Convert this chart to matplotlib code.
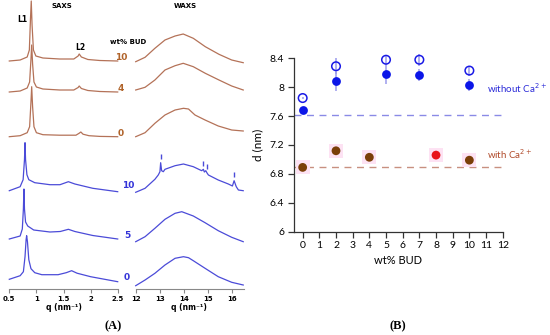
import numpy as np
import matplotlib
matplotlib.use("Agg")
import matplotlib.pyplot as plt

# ---- panel A: SAXS curves (q in nm^-1, intensity a.u. above each curve's baseline)
saxs_q = {
    "b10": [0.5, 0.7, 0.83, 0.87, 0.89, 0.905, 0.92, 0.945, 0.99, 1.12, 1.43, 1.69, 1.77, 1.79, 1.83, 1.95, 2.17, 2.5],
    "b4":  [0.5, 0.7, 0.83, 0.875, 0.9, 0.913, 0.93, 0.955, 1.0, 1.12, 1.43, 1.69, 1.77, 1.79, 1.83, 1.95, 2.17, 2.5],
    "b0":  [0.5, 0.7, 0.83, 0.875, 0.9, 0.913, 0.93, 0.955, 1.0, 1.12, 1.43, 1.73, 1.79, 1.82, 1.86, 1.97, 2.17, 2.5],
    "u10": [0.5, 0.7, 0.755, 0.78, 0.79, 0.8, 0.825, 0.86, 0.97, 1.25, 1.435, 1.59, 1.71, 2.04, 2.5],
    "u5":  [0.5, 0.7, 0.74, 0.76, 0.77, 0.78, 0.8, 0.84, 0.95, 1.25, 1.44, 1.59, 1.71, 2.04, 2.5],
    "u0":  [0.5, 0.7, 0.76, 0.79, 0.81, 0.82, 0.835, 0.86, 0.9, 0.97, 1.1, 1.4, 1.55, 1.65, 1.75, 2.0, 2.5],
}
saxs_i = {
    "b10": [0, 1, 4, 11, 41, 60, 36, 11, 5, 3, 2, 2, 5, 7, 4, 1.5, 0.5, 0],
    "b4":  [0, 1, 4, 10, 33, 47, 28, 10, 5, 3, 2, 2, 4.5, 6, 3.5, 1.5, 0.5, 0],
    "b0":  [0, 1, 4, 10, 35, 50, 30, 10, 4, 2, 1.5, 1.5, 3.5, 4.7, 2.5, 1, 0.3, 0],
    "u10": [1, 5, 12, 32, 49, 32, 17, 12, 9, 7, 7, 10, 7.7, 3.4, 0],
    "u5":  [0, 3, 10, 30, 50, 30, 17, 13, 9, 7, 7.5, 9.7, 7.5, 3.5, 0],
    "u0":  [2.4, 6, 10, 25, 42, 46, 40, 22, 13, 9, 7, 7, 9, 11, 8.5, 5, 0],
}

# ---- panel A: WAXS curves
waxs_q = {
    "b10": [12.0, 12.39, 12.8, 13.22, 13.64, 13.98, 14.4, 14.9, 15.47, 16.0, 16.48],
    "b4":  [12.0, 12.39, 12.8, 13.22, 13.64, 13.98, 14.4, 14.9, 15.47, 16.0, 16.48],
    "b0":  [12.0, 12.39, 12.8, 13.22, 13.64, 13.99, 14.2, 14.47, 14.89, 15.44, 16.0, 16.48],
    "u10": [12.0, 12.39, 12.8, 12.94, 13.01, 13.04, 13.08, 13.15, 13.22, 13.64, 13.99, 14.4, 14.75,
            14.82, 14.86, 14.92, 14.98, 15.03, 15.44, 15.86, 16.03, 16.1, 16.19, 16.28, 16.48],
    "u5":  [12.0, 12.39, 12.8, 13.22, 13.64, 13.92, 14.4, 14.89, 15.44, 16.0, 16.48],
    "u0":  [12.0, 12.39, 12.8, 13.22, 13.64, 13.99, 14.2, 14.4, 14.89, 15.44, 16.0, 16.48],
}
waxs_i = {
    "b10": [-0.7, 3.7, 12.7, 21, 25, 27, 22.7, 14.3, 6.7, 1, -1.7],
    "b4":  [2, 4.7, 12, 22, 26.3, 28.7, 25.3, 18.7, 12, 6, 2],
    "b0":  [0, 4, 13.4, 21.7, 26.7, 28.4, 27.7, 21.7, 16.7, 10.7, 6.7, 5.7],
    "u10": [-0.6, 3.4, 12.4, 16.7, 20, 29, 21, 20, 22.4, 26, 27.7, 25, 21,
            22.4, 19.7, 21, 18.4, 16.7, 11.7, 7.7, 5.7, 11, 5, 1.7, 1],
    "u5":  [-2.7, 2.3, 10.7, 19.7, 25.7, 27.3, 23, 16.3, 8.3, 1.7, -2.7],
    "u0":  [-4, 1.7, 8.4, 16.7, 23.4, 25, 24, 21, 13.4, 5, -0.6, -3.3],
}
waxs_marks = [13.04, 14.8, 14.97, 16.1]   # crystalline peaks in 10 wt% sample (no Ca)

rows = ["b10", "b4", "b0", "u10", "u5", "u0"]
row_labels = ["10", "4", "0", "10", "5", "0"]
row_base = [228, 197, 152.3, 97.3, 50, 7.3]   # stacking offsets

# ---- panel B: d-spacing vs wt% BUD
wt_open = [0, 2, 5, 7, 10]
d_open = [7.85, 8.29, 8.38, 8.38, 8.23]
err_open = [0.02, 0.11, 0.07, 0.08, 0.07]
wt_fill = [0, 2, 5, 7, 10]
d_fill = [7.69, 8.08, 8.18, 8.17, 8.03]
err_fill = [0.02, 0.13, 0.13, 0.08, 0.08]
wt_ca = [0, 2, 4, 8, 10]
d_ca = [6.89, 7.12, 7.03, 7.06, 6.99]
ca_colors = ["#7a3f08", "#7a3f08", "#7a3f08", "#e8141a", "#7a3f08"]
d_ref_noca = 7.62
d_ref_ca = 6.89

BROWN = "#b47258"
BLUE = "#4b4bd8"
W, H = 550, 335

fig = plt.figure(figsize=(5.5, 3.35), dpi=100)


def px(x, y):
    return x / W, 1 - y / H


def panel_a_axes(x0, x1):
    ax = fig.add_axes([x0 / W, 46 / H, (x1 - x0) / W, 289 / H])
    for s in ["left", "right", "top"]:
        ax.spines[s].set_visible(False)
    ax.spines["bottom"].set_color("#888888")
    ax.spines["bottom"].set_linewidth(0.8)
    ax.set_yticks([])
    ax.set_ylim(0, 289)
    ax.tick_params(axis="x", direction="out", length=3, width=0.8, color="#888888",
                   labelsize=5, pad=2)
    ax.patch.set_alpha(0)
    return ax


ax_s = panel_a_axes(9.3, 117.7)
ax_s.set_xlim(0.5, 2.5)
ax_s.set_xticks([0.5, 1, 1.5, 2, 2.5])
ax_s.set_xticklabels(["0.5", "1", "1.5", "2", "2.5"], fontweight="bold")

ax_w = panel_a_axes(135.7, 243.7)
ax_w.set_xlim(12, 16.5)
ax_w.set_xticks([12, 13, 14, 15, 16])
ax_w.set_xticklabels(["12", "13", "14", "15", "16"], fontweight="bold")

for key, base in zip(rows, row_base):
    col = BROWN if key.startswith("b") else BLUE
    ax_s.plot(saxs_q[key], np.array(saxs_i[key]) + base, color=col, lw=0.9, clip_on=False)
    ax_w.plot(waxs_q[key], np.array(waxs_i[key]) + base, color=col, lw=0.9, clip_on=False)

# peak markers above 10 wt% WAXS (no Ca)
ib = rows.index("u10")
for q in waxs_marks:
    top = np.interp(q, waxs_q["u10"], waxs_i["u10"]) + row_base[ib]
    ax_w.vlines(q, top + 4, top + 9, color=BLUE, lw=1.0)

for lab, key, (x, y) in zip(row_labels, rows,
                            [(121, 57), (121, 88), (121, 133), (128, 186), (127, 235), (127, 278)]):
    col = "#b0632a" if key.startswith("b") else "#3434d8"
    fig.text(*px(x, y), lab, color=col, fontsize=6.5, fontweight="bold", ha="center", va="center")

fig.text(*px(62, 6), "SAXS", fontsize=5, fontweight="bold", ha="center", va="center")
fig.text(*px(185, 6), "WAXS", fontsize=5, fontweight="bold", ha="center", va="center")
fig.text(*px(22, 19), "L1", fontsize=5.5, fontweight="bold", ha="center", va="center")
fig.text(*px(80, 47), "L2", fontsize=5.5, fontweight="bold", ha="center", va="center")
fig.text(*px(128, 42), "wt% BUD", fontsize=5, fontweight="bold", ha="center", va="center")
fig.text(*px(64, 307), "q (nm⁻¹)", fontsize=5.5, fontweight="bold", ha="center", va="center")
fig.text(*px(189, 307), "q (nm⁻¹)", fontsize=5.5, fontweight="bold", ha="center", va="center")
fig.text(*px(113, 326), "(A)", fontsize=9, fontweight="bold", family="Liberation Serif",
         ha="center", va="center")
fig.text(*px(398, 326), "(B)", fontsize=9, fontweight="bold", family="Liberation Serif",
         ha="center", va="center")

# ---- panel B
axb = fig.add_axes([294 / W, (H - 231.7) / H, (502.7 - 294) / W, 173.4 / H])
axb.set_xlim(-0.52, 12)
axb.set_ylim(6, 8.4)
for s in ["right", "top"]:
    axb.spines[s].set_visible(False)
for s in ["left", "bottom"]:
    axb.spines[s].set_color("#333333")
    axb.spines[s].set_linewidth(0.9)
axb.set_xticks(range(0, 13))
axb.set_yticks([6, 6.4, 6.8, 7.2, 7.6, 8, 8.4])
axb.set_yticklabels(["6", "6.4", "6.8", "7.2", "7.6", "8", "8.4"])
axb.tick_params(direction="out", length=4, width=0.9, color="#333333", labelsize=7.5, pad=3)
for t in axb.get_xticklabels() + axb.get_yticklabels():
    t.set_family("Lato")
axb.patch.set_alpha(0)

axb.axhline(d_ref_noca, color="#8a8ae6", lw=1, ls=(0, (5, 4)), zorder=1)
axb.axhline(d_ref_ca, color="#c89080", lw=1, ls=(0, (5, 4)), zorder=1)

# faint pink highlight behind Ca points
axb.scatter(wt_ca, d_ca, s=110, marker="s", color="#fde2f3", lw=0, zorder=1.5, clip_on=False)

for wt, d, e in [(wt_open, d_open, err_open), (wt_fill, d_fill, err_fill)]:
    eb = axb.errorbar(wt, d, yerr=e, fmt="none", ecolor="#9b9bec", elinewidth=1.1, zorder=2)
    for c in eb.get_children():
        c.set_clip_on(False)
axb.scatter(wt_open, d_open, s=38, facecolor="none", edgecolor="#1a1ae6", lw=1.1, zorder=3,
            clip_on=False)
axb.scatter(wt_fill, d_fill, s=40, color="#0b16e8", lw=0, zorder=3, clip_on=False)
axb.scatter(wt_ca, d_ca, s=40, color=ca_colors, lw=0, zorder=3, clip_on=False)

axb.set_xlabel("wt% BUD", fontsize=8, family="Lato", labelpad=3)
axb.set_ylabel("d (nm)", fontsize=8.5, family="Lato", labelpad=5)

fig.text(*px(487, 88), "without Ca$^{2+}$", color="#2a2ad8", fontsize=7, family="Lato",
         ha="left", va="center")
fig.text(*px(487, 154), "with Ca$^{2+}$", color="#b04a2a", fontsize=7, family="Lato",
         ha="left", va="center")

fig.savefig("out.png", dpi=100)
